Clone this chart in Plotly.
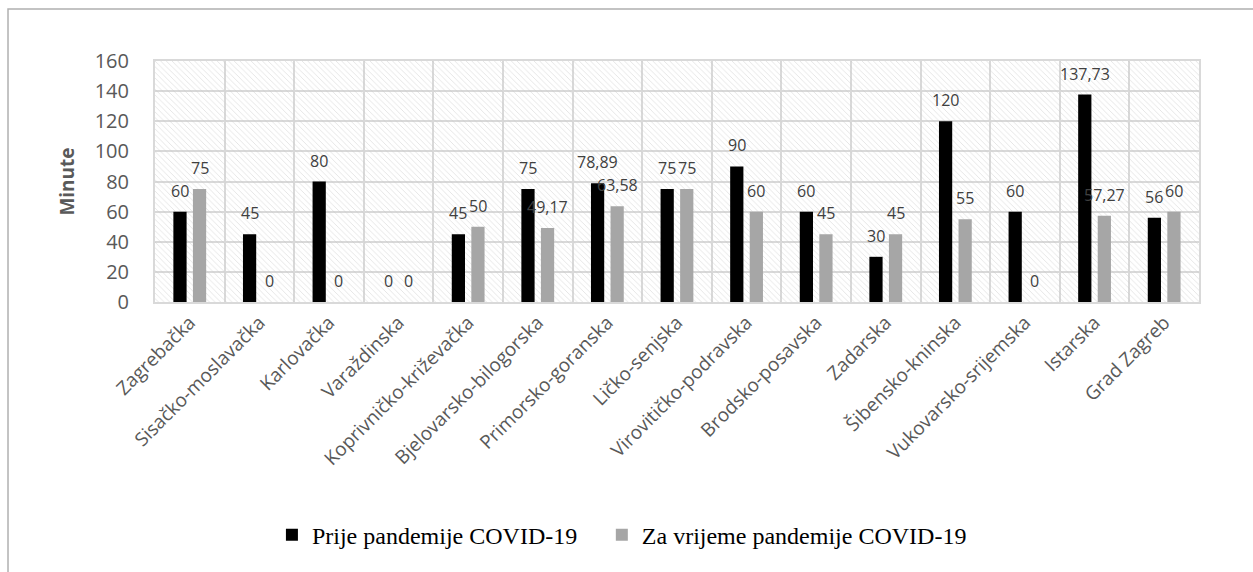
import plotly.graph_objects as go

# Counties (županije)
zupanije = [
    'Zagrebačka', 'Sisačko-moslavačka', 'Karlovačka', 'Varaždinska',
    'Koprivničko-križevačka', 'Bjelovarsko-bilogorska', 'Primorsko-goranska',
    'Ličko-senjska', 'Virovitičko-podravska', 'Brodsko-posavska', 'Zadarska',
    'Šibensko-kninska', 'Vukovarsko-srijemska', 'Istarska', 'Grad Zagreb',
]

prije = [60, 45, 80, 0, 45, 75, 78.89, 75, 90, 60, 30, 120, 60, 137.73, 56]
za_vrijeme = [75, 0, 0, 0, 50, 49.17, 63.58, 75, 60, 45, 45, 55, 0, 57.27, 60]

y_ticks = [0, 20, 40, 60, 80, 100, 120, 140, 160]
y_max = y_ticks[-1]

GREY_TXT = '#595959'
GRID = '#d9d9d9'


def fmt(v):
    # decimal comma, as in the original
    return ('%g' % v).replace('.', ',')


fig = go.Figure()

# hatched plot-area background
fig.add_trace(go.Bar(
    x=zupanije,
    y=[y_max] * len(zupanije),
    width=1,
    marker=dict(
        color='rgba(0,0,0,0)',
        line=dict(width=0),
        pattern=dict(shape='\\', size=4, solidity=0.22,
                     fgcolor='#c8c8c8', bgcolor='rgba(0,0,0,0)'),
    ),
    showlegend=False,
    hoverinfo='skip',
))

fig.add_trace(go.Bar(
    x=zupanije,
    y=prije,
    name='Prije pandemije COVID-19',
    width=0.19,
    offset=-0.236,
    marker=dict(color='black', line=dict(width=0)),
    legend='legend',
))

fig.add_trace(go.Bar(
    x=zupanije,
    y=za_vrijeme,
    name='Za vrijeme pandemije COVID-19',
    width=0.19,
    offset=0.045,
    marker=dict(color='#a6a6a6', line=dict(width=0)),
    legend='legend2',
))

# data labels above the bars
annotations = []
for serie, shift in ((prije, -9.8), (za_vrijeme, 9.7)):
    for cat, v in zip(zupanije, serie):
        annotations.append(dict(
            x=cat, y=v, xref='x', yref='y',
            text=fmt(v), showarrow=False,
            xshift=shift, yshift=21, yanchor='middle',
            font=dict(family='Open Sans', size=16, color='#404040'),
        ))

legend_font = dict(family='Liberation Serif', size=24, color='black')

fig.update_layout(
    width=1253,
    height=572,
    margin=dict(l=155, r=54, t=61, b=270),
    paper_bgcolor='white',
    plot_bgcolor='white',
    barmode='overlay',
    annotations=annotations,
    xaxis=dict(
        type='category',
        tickson='boundaries',
        showgrid=True,
        gridcolor=GRID,
        gridwidth=2,
        showline=True,
        linecolor=GRID,
        linewidth=2,
        mirror=True,
        ticks='outside',
        ticklen=14,
        tickcolor='rgba(0,0,0,0)',
        tickangle=-45,
        tickfont=dict(family='Open Sans', size=19, color=GREY_TXT),
    ),
    yaxis=dict(
        range=[0, y_max],
        tickvals=y_ticks,
        showgrid=True,
        gridcolor=GRID,
        gridwidth=2,
        zeroline=False,
        showline=True,
        linecolor=GRID,
        linewidth=2,
        mirror=True,
        ticks='outside',
        ticklen=20,
        tickcolor='rgba(0,0,0,0)',
        tickfont=dict(family='Open Sans', size=20, color=GREY_TXT),
        title=dict(text='<b>Minute</b>',
                   font=dict(family='Open Sans', size=19, color=GREY_TXT)),
    ),
    legend=dict(
        orientation='h', x=0.112, xanchor='left',
        y=-0.967, yanchor='middle', font=legend_font,
    ),
    legend2=dict(
        orientation='h', x=0.428, xanchor='left',
        y=-0.967, yanchor='middle', font=legend_font,
    ),
    shapes=[dict(
        type='rect', xref='paper', yref='paper',
        x0=-0.1408, x1=1.058, y0=-1.2, y1=1.2158,
        line=dict(color='#b0b0b0', width=1.5),
        layer='below',
    )],
)

fig.write_html("out.html", config={'displayModeBar': False},
               post_script="document.body.style.margin='0';")
